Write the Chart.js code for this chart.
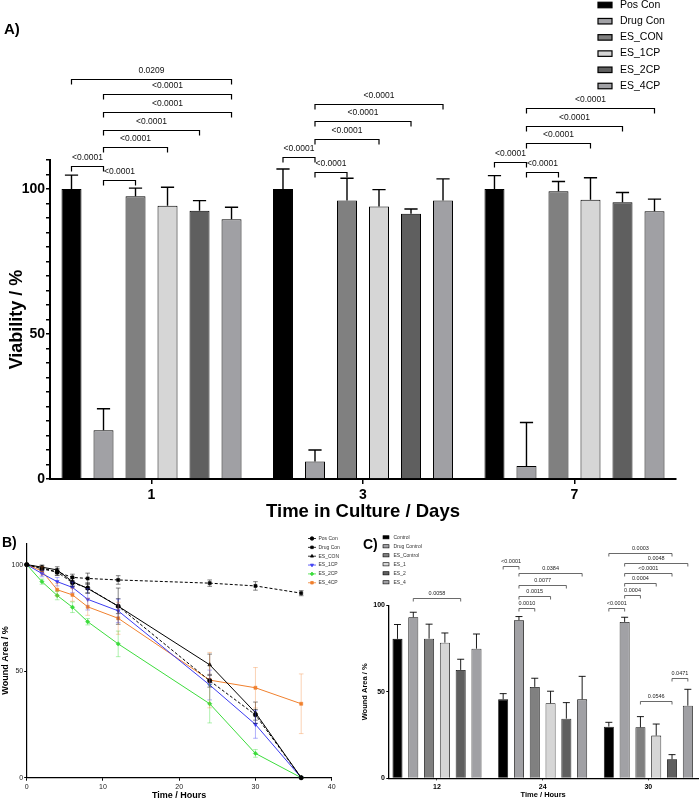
<!DOCTYPE html>
<html>
<head>
<meta charset="utf-8">
<script src="https://cdn.jsdelivr.net/npm/chart.js@4.4.1/dist/chart.umd.min.js"></script>
<style>
  html, body { margin: 0; padding: 0; background: #fff; width: 700px; height: 800px; overflow: hidden; }
  canvas { position: absolute; }
</style>
</head>
<body>
<canvas id="cA" width="700" height="530" style="left:0px;top:0px"></canvas>
<canvas id="cB" width="350" height="270" style="left:0px;top:530px"></canvas>
<canvas id="cC" width="350" height="270" style="left:350px;top:530px"></canvas>
<script>
// ---------------- DATA: Panel A (viability) ----------------
const daysA = ['1', '3', '7'];
const seriesA = ['Pos Con', 'Drug Con', 'ES_CON', 'ES_1CP', 'ES_2CP', 'ES_4CP'];
const posConA  = [100, 100, 100];
const drugConA = [16.8, 6.0, 4.5];
const esConA   = [97.5, 96.0, 99.2];
const es1cpA   = [94.2, 94.0, 96.3];
const es2cpA   = [92.5, 91.5, 95.4];
const es4cpA   = [89.6, 96.0, 92.3];
const posConErrA  = [4.8, 6.9, 4.6];
const drugConErrA = [7.4, 4.0, 15.0];
const esConErrA   = [2.8, 7.7, 3.4];
const es1cpErrA   = [6.4, 5.8, 7.6];
const es2cpErrA   = [3.5, 1.6, 3.4];
const es4cpErrA   = [4.1, 7.5, 4.2];
// [group, from series, to series, bracket level (%), p value]
const bracketsA = [
  [0, 0, 5, 137.8, '0.0209'],
  [0, 1, 5, 132.6, '<0.0001'],
  [0, 1, 5, 126.5, '<0.0001'],
  [0, 1, 4, 120.4, '<0.0001'],
  [0, 1, 3, 114.4, '<0.0001'],
  [0, 0, 1, 108.1, '<0.0001'],
  [0, 1, 2, 103.1, '<0.0001'],
  [1, 1, 5, 129.4, '<0.0001'],
  [1, 1, 4, 123.3, '<0.0001'],
  [1, 1, 3, 117.3, '<0.0001'],
  [1, 0, 1, 111.2, '<0.0001'],
  [1, 1, 2, 105.8, '<0.0001'],
  [2, 1, 5, 127.9, '<0.0001'],
  [2, 1, 4, 121.7, '<0.0001'],
  [2, 1, 3, 115.8, '<0.0001'],
  [2, 0, 1, 109.4, '<0.0001'],
  [2, 1, 2, 105.8, '<0.0001']
];

// ---------------- DATA: Panel B (wound closure time course) ----------------
const hoursB = [0, 2, 4, 6, 8, 12, 24, 30, 36];
const seriesB = ['Pos Con', 'Drug Con', 'ES_CON', 'ES_1CP', 'ES_2CP', 'ES_4CP'];
const posConB  = [100, 98.0, 96.5, 91.5, 89.0, 80.5, 45.5, 29.5, 0];
const drugConB = [100, 98.5, 96.5, 94.0, 93.5, 92.8, 91.3, 90.0, 86.6];
const esConB   = [100, 98.8, 97.5, 92.0, 88.8, 80.5, 53.0, 30.5, 0];
const es1cpB   = [100, 95.8, 92.0, 89.3, 83.7, 78.3, 43.5, 25.0, 0];
const es2cpB   = [100, 92.0, 85.5, 80.0, 73.2, 62.8, 34.7, 11.4, 0];
const es4cpB   = [100, 97.0, 88.2, 85.8, 80.2, 74.8, 45.8, 42.2, 34.7];
const posConErrB  = [0, 1.0, 1.5, 2.0, 2.5, 3.5, 3.0, 2.5, 0];
const drugConErrB = [0, 1.0, 1.5, 1.5, 2.5, 2.0, 1.5, 2.0, 1.2];
const esConErrB   = [0, 1.0, 1.5, 2.0, 2.0, 8.5, 5.0, 5.0, 0];
const es1cpErrB   = [0, 1.5, 2.0, 2.5, 5.0, 5.5, 7.0, 6.5, 0];
const es2cpErrB   = [0, 1.2, 2.0, 2.5, 1.5, 6.0, 9.0, 1.8, 0];
const es4cpErrB   = [0, 2.0, 3.0, 3.0, 4.0, 7.5, 13.0, 9.5, 14.0];

// ---------------- DATA: Panel C (wound area bars) ----------------
const hoursC = ['12', '24', '30'];
const seriesC = ['Control', 'Drug Control', 'ES_Control', 'ES_1', 'ES_2', 'ES_4'];
const controlC     = [80.7, 45.7, 29.9];
const drugControlC = [93.2, 91.5, 90.5];
const esControlC   = [80.8, 52.9, 29.5];
const es1C         = [78.5, 43.4, 24.7];
const es2C         = [62.7, 34.5, 11.0];
const es4C         = [75.0, 45.7, 42.0];
const controlErrC     = [8.3, 3.3, 2.5];
const drugControlErrC = [2.9, 2.1, 2.7];
const esControlErrC   = [8.4, 5.0, 6.2];
const es1ErrC         = [5.6, 7.0, 6.7];
const es2ErrC         = [6.2, 9.3, 2.7];
const es4ErrC         = [8.5, 13.3, 9.5];
const bracketsC = [
  [0, 1, 4, 104.2, '0.0058'],
  [1, 0, 1, 123.0, '<0.0001'],
  [1, 1, 5, 119.0, '0.0384'],
  [1, 1, 4, 112.0, '0.0077'],
  [1, 1, 3, 105.5, '0.0015'],
  [1, 1, 2, 98.4, '0.0010'],
  [2, 0, 4, 130.6, '0.0003'],
  [2, 1, 5, 124.8, '0.0048'],
  [2, 1, 4, 119.0, '<0.0001'],
  [2, 1, 3, 112.8, '0.0004'],
  [2, 1, 2, 105.9, '0.0004'],
  [2, 0, 1, 98.4, '<0.0001'],
  [2, 2, 4, 44.9, '0.0546'],
  [2, 4, 5, 58.2, '0.0471']
];

// ---------------- STYLES ----------------
const FONT = '"Liberation Sans", Arial, Helvetica, sans-serif';
Chart.defaults.font.family = FONT;
Chart.defaults.color = '#000';
const barFills = ['#000000', '#a1a1a5', '#808080', '#d6d6d6', '#5f5f5f', '#a0a0a4'];
const lineColB = ['#000000', '#000000', '#000000', '#3b3bf2', '#3cdc3c', '#f0802e'];
const errColB = ['rgba(0,0,0,0.55)', 'rgba(0,0,0,0.55)', 'rgba(0,0,0,0.55)',
                 'rgba(59,59,242,0.45)', 'rgba(60,220,60,0.45)', 'rgba(240,128,46,0.4)'];
const dashB = [[3, 2], [3, 2], [], [], [], []];
const markB = ['circle', 'rect', 'triangle', 'triangle', 'rectRot', 'rect'];
const rotB = [0, 0, 0, 180, 0, 0];

// ---------------- PLUGINS ----------------
const errorBars = {
  id: 'errbars',
  afterDatasetsDraw(chart, args, o) {
    const ctx = chart.ctx, ys = chart.scales.y;
    ctx.save();
    chart.data.datasets.forEach((ds, di) => {
      if (!ds.errors) return;
      const meta = chart.getDatasetMeta(di);
      meta.data.forEach((el, i) => {
        const e = ds.errors[i];
        if (!e) return;
        const v = ds.data[i].y;
        const yTop = ys.getPixelForValue(v + e);
        const yBot = o.both ? ys.getPixelForValue(v - e) : el.y;
        const x = el.x;
        const cw = o.cap != null ? o.cap : el.width * o.capRatio;
        ctx.strokeStyle = ds.errorColor || o.color;
        ctx.lineWidth = o.width;
        ctx.beginPath();
        ctx.moveTo(x, yBot); ctx.lineTo(x, yTop);
        ctx.moveTo(x - cw, yTop); ctx.lineTo(x + cw, yTop);
        if (o.both) { ctx.moveTo(x - cw, yBot); ctx.lineTo(x + cw, yBot); }
        ctx.stroke();
      });
    });
    ctx.restore();
  }
};

const brackets = {
  id: 'brackets',
  afterDraw(chart, args, o) {
    if (!o.items) return;
    const ctx = chart.ctx, ys = chart.scales.y;
    ctx.save();
    ctx.strokeStyle = o.color; ctx.lineWidth = o.width; ctx.fillStyle = o.textColor;
    ctx.font = o.font; ctx.textAlign = 'center'; ctx.textBaseline = 'middle';
    o.items.forEach(([g, a, b, level, label]) => {
      const xa = chart.getDatasetMeta(a).data[g].x;
      const xb = chart.getDatasetMeta(b).data[g].x;
      const y = Math.round(ys.getPixelForValue(level)) + 0.5;
      ctx.beginPath();
      ctx.moveTo(xa, y + o.tick); ctx.lineTo(xa, y); ctx.lineTo(xb, y); ctx.lineTo(xb, y + o.tick);
      ctx.stroke();
      ctx.fillText(label, (xa + xb) / 2, y - o.gap);
    });
    ctx.restore();
  }
};

const deco = {
  id: 'deco',
  afterDraw(chart, args, o) {
    const ctx = chart.ctx;
    ctx.save();
    ctx.textBaseline = 'middle'; ctx.textAlign = 'left';
    ctx.fillStyle = '#000';
    ctx.font = o.panelFont;
    ctx.fillText(o.panel, o.panelX, o.panelY);
    ctx.font = o.legendFont;
    chart.data.datasets.forEach((ds, i) => {
      const y = o.legendY + i * o.legendStep;
      if (o.kind === 'box') {
        ctx.fillStyle = ds.backgroundColor;
        ctx.fillRect(o.legendX, y - o.boxH / 2, o.boxW, o.boxH);
        ctx.strokeStyle = '#000'; ctx.lineWidth = o.boxLine;
        ctx.strokeRect(o.legendX, y - o.boxH / 2, o.boxW, o.boxH);
      } else {
        ctx.strokeStyle = ds.borderColor; ctx.lineWidth = 0.8;
        ctx.setLineDash(ds.borderDash || []);
        ctx.beginPath(); ctx.moveTo(o.legendX, y); ctx.lineTo(o.legendX + o.boxW, y); ctx.stroke();
        ctx.setLineDash([]);
        ctx.fillStyle = ds.borderColor;
        Chart.helpers.drawPoint(ctx, { pointStyle: ds.pointStyle, rotation: ds.pointRotation || 0, radius: 1.8, borderWidth: 0.5 },
          o.legendX + o.boxW / 2, y);
      }
      ctx.fillStyle = o.textColor;
      ctx.fillText(ds.label, o.textX, y);
    });
    ctx.restore();
  }
};

// ---------------- PANEL A ----------------
const valsA = [posConA, drugConA, esConA, es1cpA, es2cpA, es4cpA];
const errsA = [posConErrA, drugConErrA, esConErrA, es1cpErrA, es2cpErrA, es4cpErrA];
new Chart(document.getElementById('cA'), {
  type: 'bar',
  data: {
    datasets: seriesA.map((name, s) => ({
      label: name,
      data: valsA[s].map((v, i) => ({ x: i, y: v })),
      errors: errsA[s],
      backgroundColor: barFills[s],
      borderColor: '#000',
      borderWidth: 1,
      categoryPercentage: 0.908,
      barPercentage: 0.625
    }))
  },
  options: {
    responsive: false, animation: false, devicePixelRatio: 1,
    layout: { padding: { top: 160, right: 24, bottom: 0, left: 0 } },
    plugins: {
      legend: { display: false }, tooltip: { enabled: false },
      errbars: { both: false, capRatio: 0.33, width: 1.4, color: '#000' },
      brackets: { items: bracketsA, color: '#000', width: 1.2, textColor: '#111', font: '8.5px ' + FONT, tick: 5, gap: 9 },
      deco: { panel: 'A)', panelX: 4, panelY: 30, panelFont: 'bold 15px ' + FONT,
              kind: 'box', legendX: 598, legendY: 5, legendStep: 16.2, boxW: 14, boxH: 5.5, boxLine: 1.2,
              textX: 620, legendFont: '10.5px ' + FONT, textColor: '#000' }
    },
    scales: {
      x: {
        type: 'linear', min: -0.48, max: 2.48, offset: false,
        afterFit: s => { s.height = 51; },
        border: { color: '#000', width: 2 },
        grid: { offset: false, drawOnChartArea: false, drawTicks: true, tickLength: 5, color: '#000', lineWidth: 1.5 },
        ticks: { stepSize: 1, includeBounds: false, autoSkip: false, padding: 3, maxRotation: 0,
                 font: { size: 14, weight: 'bold' }, callback: v => (daysA[v] !== undefined ? daysA[v] : '') },
        title: { display: true, text: 'Time in Culture / Days', font: { size: 18.5, weight: 'bold', lineHeight: 1.2 }, padding: { top: 0, bottom: 7 } }
      },
      y: {
        min: 0, max: 110,
        afterFit: s => { s.width = 50; },
        border: { color: '#000', width: 2 },
        grid: { drawOnChartArea: false, tickLength: 4, color: '#000', lineWidth: 1.5 },
        ticks: { stepSize: 5, autoSkip: false, includeBounds: false, padding: 1,
                 font: { size: 14, weight: 'bold' }, callback: v => (v % 50 === 0 ? String(v) : '') },
        title: { display: true, text: 'Viability / %', font: { size: 18, weight: 'bold', lineHeight: 1.2 }, padding: { top: 6.5, bottom: 0 } }
      }
    }
  },
  plugins: [errorBars, brackets, deco]
});

// ---------------- PANEL B ----------------
const valsB = [posConB, drugConB, esConB, es1cpB, es2cpB, es4cpB];
const errsB = [posConErrB, drugConErrB, esConErrB, es1cpErrB, es2cpErrB, es4cpErrB];
new Chart(document.getElementById('cB'), {
  type: 'line',
  data: {
    datasets: seriesB.map((name, s) => ({
      label: name,
      data: hoursB.map((h, i) => ({ x: h, y: valsB[s][i] })),
      errors: errsB[s],
      errorColor: errColB[s],
      borderColor: lineColB[s],
      backgroundColor: lineColB[s],
      pointBackgroundColor: lineColB[s],
      pointBorderColor: lineColB[s],
      borderWidth: 1,
      borderDash: dashB[s],
      pointStyle: markB[s],
      pointRotation: rotB[s],
      pointRadius: 2.2,
      pointBorderWidth: 0.5,
      tension: 0, fill: false, clip: false
    }))
  },
  options: {
    responsive: false, animation: false, devicePixelRatio: 1,
    layout: { padding: { top: 13.3, right: 18.3, bottom: 0, left: 0 } },
    plugins: {
      legend: { display: false }, tooltip: { enabled: false },
      errbars: { both: true, cap: 2.3, width: 0.9, color: '#000' },
      deco: { panel: 'B)', panelX: 2, panelY: 13, panelFont: 'bold 14px ' + FONT,
              kind: 'line', legendX: 308, legendY: 8.5, legendStep: 8.85, boxW: 8,
              textX: 318.5, legendFont: '5px ' + FONT, textColor: '#333' }
    },
    scales: {
      x: {
        type: 'linear', min: 0, max: 40,
        afterFit: s => { s.height = 22.3; },
        border: { color: '#000', width: 1.2 },
        grid: { drawOnChartArea: false, tickLength: 3, color: '#000', lineWidth: 1 },
        ticks: { stepSize: 10, padding: 2, maxRotation: 0, font: { size: 7 }, color: '#222' },
        title: { display: true, text: 'Time / Hours', font: { size: 9, weight: 'bold', lineHeight: 1 }, padding: { top: 0, bottom: 0 } }
      },
      y: {
        min: 0, max: 110,
        afterFit: s => { s.width = 26.7; },
        border: { color: '#000', width: 1.2 },
        grid: { drawOnChartArea: false, tickLength: 2.5, color: '#000', lineWidth: 1 },
        ticks: { stepSize: 50, includeBounds: false, padding: 1, font: { size: 7 }, color: '#222' },
        title: { display: true, text: 'Wound Area / %', font: { size: 9, weight: 'bold', lineHeight: 1 }, padding: { top: 1.5, bottom: 0 } }
      }
    }
  },
  plugins: [errorBars, deco]
});

// ---------------- PANEL C ----------------
const valsC = [controlC, drugControlC, esControlC, es1C, es2C, es4C];
const errsC = [controlErrC, drugControlErrC, esControlErrC, es1ErrC, es2ErrC, es4ErrC];
new Chart(document.getElementById('cC'), {
  type: 'bar',
  data: {
    datasets: seriesC.map((name, s) => ({
      label: name,
      data: valsC[s].map((v, i) => ({ x: i, y: v })),
      errors: errsC[s],
      backgroundColor: barFills[s],
      borderColor: '#000',
      borderWidth: 0.8,
      categoryPercentage: 0.897,
      barPercentage: 0.633
    }))
  },
  options: {
    responsive: false, animation: false, devicePixelRatio: 1,
    layout: { padding: { top: 75.5, right: 2, bottom: 0, left: 0 } },
    plugins: {
      legend: { display: false }, tooltip: { enabled: false },
      errbars: { both: false, capRatio: 0.35, width: 0.9, color: '#000' },
      brackets: { items: bracketsC, color: '#444', width: 0.8, textColor: '#222', font: '5.5px ' + FONT, tick: 3, gap: 5 },
      deco: { panel: 'C)', panelX: 13, panelY: 15.5, panelFont: 'bold 14px ' + FONT,
              kind: 'box', legendX: 33, legendY: 7.3, legendStep: 9.0, boxW: 6, boxH: 3.2, boxLine: 0.6,
              textX: 43.5, legendFont: '5px ' + FONT, textColor: '#333' }
    },
    scales: {
      x: {
        type: 'linear', min: -0.4607, max: 2.47, offset: false,
        afterFit: s => { s.height = 21.7; },
        border: { color: '#000', width: 1.3 },
        grid: { offset: false, drawOnChartArea: false, drawTicks: true, tickLength: 2, color: '#000', lineWidth: 1 },
        ticks: { stepSize: 1, includeBounds: false, autoSkip: false, padding: 3, maxRotation: 0,
                 font: { size: 7, weight: 'bold' }, callback: v => (hoursC[v] !== undefined ? hoursC[v] : '') },
        title: { display: true, text: 'Time / Hours', font: { size: 7.5, weight: 'bold', lineHeight: 1 }, padding: { top: 0, bottom: 1 } }
      },
      y: {
        min: 0, max: 100,
        afterFit: s => { s.width = 38.3; },
        border: { color: '#000', width: 1.3 },
        grid: { drawOnChartArea: false, tickLength: 2, color: '#000', lineWidth: 1 },
        ticks: { stepSize: 50, includeBounds: false, padding: 1.3, font: { size: 7, weight: 'bold' } },
        title: { display: true, text: 'Wound Area / %', font: { size: 7.5, weight: 'bold', lineHeight: 1.2 }, padding: { top: 10.5, bottom: 0 } }
      }
    }
  },
  plugins: [errorBars, brackets, deco]
});
</script>
</body>
</html>
